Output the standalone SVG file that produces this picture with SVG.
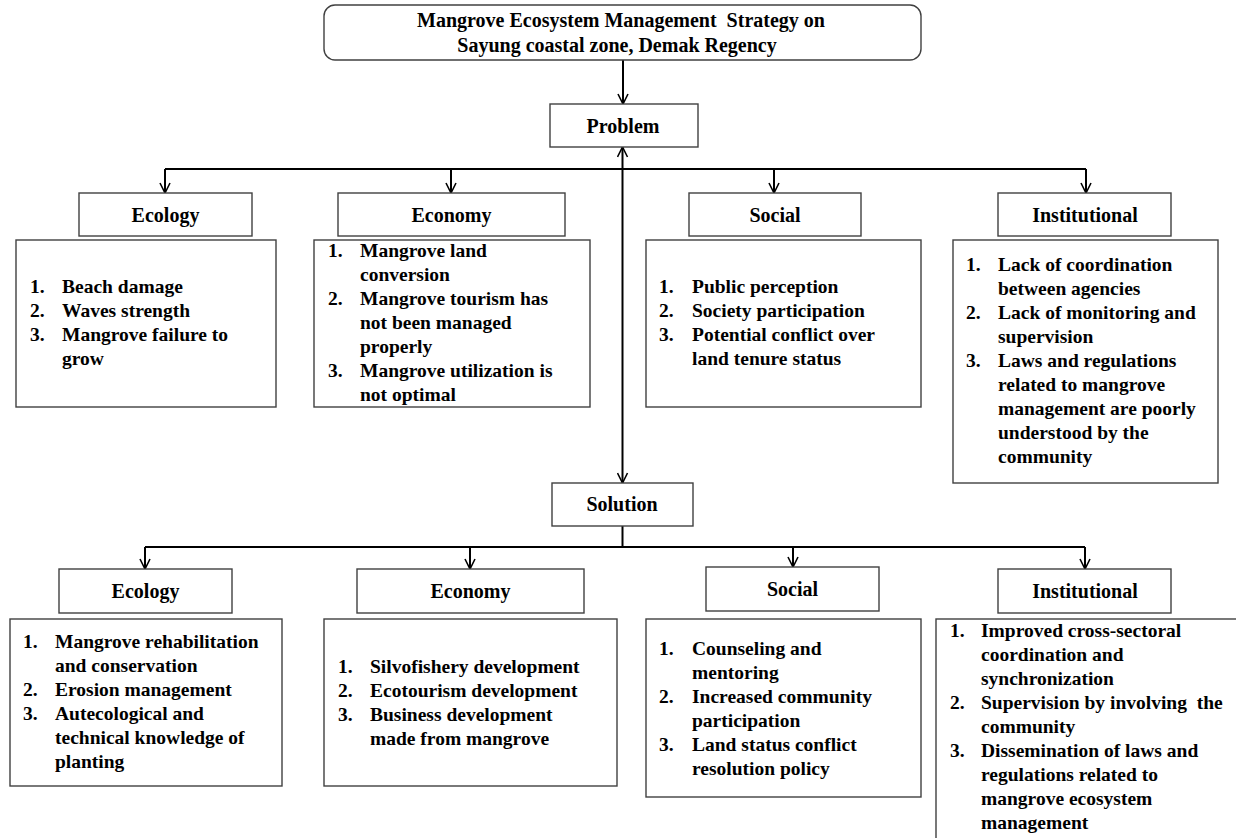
<svg xmlns="http://www.w3.org/2000/svg" width="1236" height="838" viewBox="0 0 1236 838">
<defs>
<marker id="arr" viewBox="0 0 12 12" refX="11" refY="6" markerWidth="12" markerHeight="12" markerUnits="userSpaceOnUse" orient="auto">
<path d="M1,1 L11,6 L1,11" fill="none" stroke="#000" stroke-width="1.6"/>
</marker>
<style>
.box{fill:#fff;stroke:#404040;stroke-width:1.4}
.hd{font-family:"Liberation Serif","Times New Roman",serif;font-weight:bold;font-size:20px;fill:#000;text-anchor:middle}
.tx{font-family:"Liberation Serif","Times New Roman",serif;font-weight:bold;font-size:19.5px;fill:#000}
.ln{fill:none;stroke:#000;stroke-width:2}
</style>
</defs>
<rect width="1236" height="838" fill="#fff"/>

<g id="connectors">
<path class="ln" d="M623,59 V104" marker-end="url(#arr)"/>
<path class="ln" d="M622.5,315 V147" marker-end="url(#arr)"/>
<path class="ln" d="M622.5,315 V483" marker-end="url(#arr)"/>
<path class="ln" d="M165,169 H1086"/>
<path class="ln" d="M165,169 V193" marker-end="url(#arr)"/>
<path class="ln" d="M451,169 V193" marker-end="url(#arr)"/>
<path class="ln" d="M774,169 V193" marker-end="url(#arr)"/>
<path class="ln" d="M1086,169 V193" marker-end="url(#arr)"/>
<path class="ln" d="M622.5,526 V547"/>
<path class="ln" d="M145,547 H1085"/>
<path class="ln" d="M145,547 V569" marker-end="url(#arr)"/>
<path class="ln" d="M470,547 V569" marker-end="url(#arr)"/>
<path class="ln" d="M793,547 V567" marker-end="url(#arr)"/>
<path class="ln" d="M1085,547 V569" marker-end="url(#arr)"/>
</g>

<g id="title">
<rect class="box" x="324" y="5" width="597" height="55" rx="11"/>
<text class="hd" x="621" y="27" xml:space="preserve">Mangrove Ecosystem Management  Strategy on</text>
<text class="hd" x="617" y="52">Sayung coastal zone, Demak Regency</text>
</g>

<g id="problem">
<rect class="box" x="550" y="104" width="148" height="43"/>
<text class="hd" x="623" y="133">Problem</text>
</g>

<g id="p-ecology">
<rect class="box" x="79" y="193" width="173" height="43"/>
<text class="hd" x="165.5" y="222">Ecology</text>
</g>
<g id="p-economy">
<rect class="box" x="338" y="193" width="227" height="43"/>
<text class="hd" x="451.5" y="222">Economy</text>
</g>
<g id="p-social">
<rect class="box" x="689" y="193" width="172" height="43"/>
<text class="hd" x="775" y="222">Social</text>
</g>
<g id="p-institutional">
<rect class="box" x="998" y="193" width="173" height="43"/>
<text class="hd" x="1085" y="222">Institutional</text>
</g>

<g id="p-ecology-list">
<rect class="box" x="16" y="240" width="260" height="167"/>
<text class="tx"><tspan x="30" y="293">1.</tspan><tspan x="62" y="293">Beach damage</tspan><tspan x="30" y="317">2.</tspan><tspan x="62" y="317">Waves strength</tspan><tspan x="30" y="341">3.</tspan><tspan x="62" y="341">Mangrove failure to</tspan><tspan x="62" y="365">grow</tspan></text>
</g>
<g id="p-economy-list">
<rect class="box" x="314" y="240" width="276" height="167"/>
<text class="tx"><tspan x="328" y="257">1.</tspan><tspan x="360" y="257">Mangrove land</tspan><tspan x="360" y="281">conversion</tspan><tspan x="328" y="305">2.</tspan><tspan x="360" y="305">Mangrove tourism has</tspan><tspan x="360" y="329">not been managed</tspan><tspan x="360" y="353">properly</tspan><tspan x="328" y="377">3.</tspan><tspan x="360" y="377">Mangrove utilization is</tspan><tspan x="360" y="401">not optimal</tspan></text>
</g>
<g id="p-social-list">
<rect class="box" x="646" y="240" width="275" height="167"/>
<text class="tx"><tspan x="659" y="293">1.</tspan><tspan x="692" y="293">Public perception</tspan><tspan x="659" y="317">2.</tspan><tspan x="692" y="317">Society participation</tspan><tspan x="659" y="341">3.</tspan><tspan x="692" y="341">Potential conflict over</tspan><tspan x="692" y="365">land tenure status</tspan></text>
</g>
<g id="p-institutional-list">
<rect class="box" x="953" y="240" width="265" height="243"/>
<text class="tx"><tspan x="966" y="271">1.</tspan><tspan x="998" y="271">Lack of coordination</tspan><tspan x="998" y="295">between agencies</tspan><tspan x="966" y="319">2.</tspan><tspan x="998" y="319">Lack of monitoring and</tspan><tspan x="998" y="343">supervision</tspan><tspan x="966" y="367">3.</tspan><tspan x="998" y="367">Laws and regulations</tspan><tspan x="998" y="391">related to mangrove</tspan><tspan x="998" y="415">management are poorly</tspan><tspan x="998" y="439">understood by the</tspan><tspan x="998" y="463">community</tspan></text>
</g>

<g id="solution">
<rect class="box" x="552" y="483" width="141" height="43"/>
<text class="hd" x="622" y="511">Solution</text>
</g>

<g id="s-ecology">
<rect class="box" x="59" y="569" width="173" height="44"/>
<text class="hd" x="145.5" y="598">Ecology</text>
</g>
<g id="s-economy">
<rect class="box" x="357" y="569" width="227" height="44"/>
<text class="hd" x="470.5" y="598">Economy</text>
</g>
<g id="s-social">
<rect class="box" x="706" y="567" width="173" height="44"/>
<text class="hd" x="792.5" y="596">Social</text>
</g>
<g id="s-institutional">
<rect class="box" x="998" y="569" width="173" height="44"/>
<text class="hd" x="1085" y="598">Institutional</text>
</g>

<g id="s-ecology-list">
<rect class="box" x="10" y="619" width="272" height="167"/>
<text class="tx"><tspan x="23" y="648">1.</tspan><tspan x="55" y="648">Mangrove rehabilitation</tspan><tspan x="55" y="672">and conservation</tspan><tspan x="23" y="696">2.</tspan><tspan x="55" y="696">Erosion management</tspan><tspan x="23" y="720">3.</tspan><tspan x="55" y="720">Autecological and</tspan><tspan x="55" y="744">technical knowledge of</tspan><tspan x="55" y="768">planting</tspan></text>
</g>
<g id="s-economy-list">
<rect class="box" x="324" y="619" width="293" height="167"/>
<text class="tx"><tspan x="338" y="673">1.</tspan><tspan x="370" y="673">Silvofishery development</tspan><tspan x="338" y="697">2.</tspan><tspan x="370" y="697">Ecotourism development</tspan><tspan x="338" y="721">3.</tspan><tspan x="370" y="721">Business development</tspan><tspan x="370" y="745">made from mangrove</tspan></text>
</g>
<g id="s-social-list">
<rect class="box" x="646" y="619" width="275" height="178"/>
<text class="tx"><tspan x="659" y="655">1.</tspan><tspan x="692" y="655">Counseling and</tspan><tspan x="692" y="679">mentoring</tspan><tspan x="659" y="703">2.</tspan><tspan x="692" y="703">Increased community</tspan><tspan x="692" y="727">participation</tspan><tspan x="659" y="751">3.</tspan><tspan x="692" y="751">Land status conflict</tspan><tspan x="692" y="775">resolution policy</tspan></text>
</g>
<g id="s-institutional-list">
<rect class="box" x="936" y="619" width="320" height="240"/>
<text class="tx" xml:space="preserve"><tspan x="950" y="637">1.</tspan><tspan x="981" y="637">Improved cross-sectoral</tspan><tspan x="981" y="661">coordination and</tspan><tspan x="981" y="685">synchronization</tspan><tspan x="950" y="709">2.</tspan><tspan x="981" y="709">Supervision by involving  the</tspan><tspan x="981" y="733">community</tspan><tspan x="950" y="757">3.</tspan><tspan x="981" y="757">Dissemination of laws and</tspan><tspan x="981" y="781">regulations related to</tspan><tspan x="981" y="805">mangrove ecosystem</tspan><tspan x="981" y="829">management</tspan></text>
</g>
</svg>
